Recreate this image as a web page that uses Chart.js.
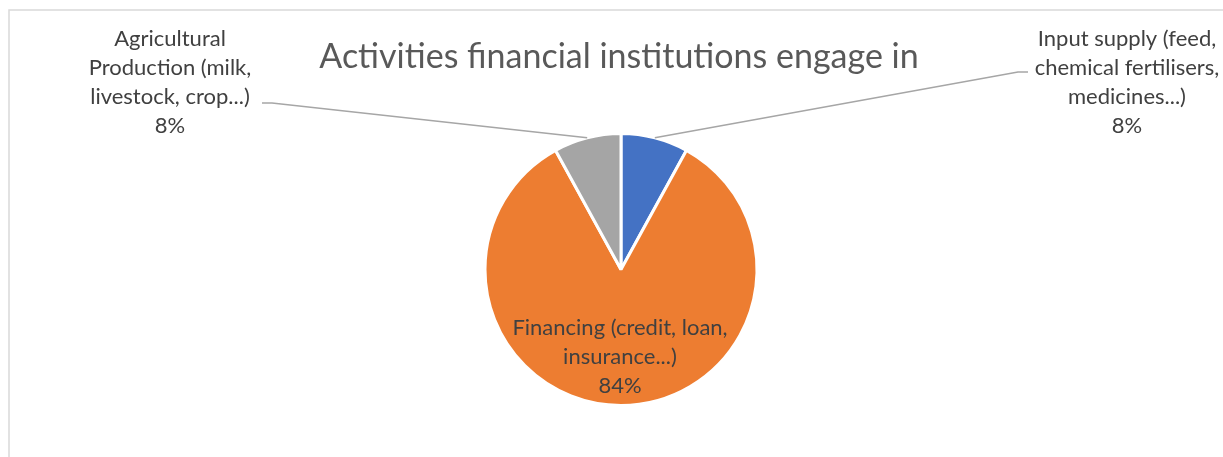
<!DOCTYPE html>
<html>
<head>
<meta charset="utf-8">
<script src="https://cdn.jsdelivr.net/npm/chart.js@4/dist/chart.umd.min.js"></script>
<style>
  html, body { margin: 0; padding: 0; background: #fff; }
  #wrap { width: 1223px; height: 457px; }
</style>
</head>
<body>
<div id="wrap"><canvas id="myPieChart" width="1223" height="457"></canvas></div>
<script>
// Data
const chartTitle = "Activities financial institutions engage in";
const categories = [
  ["Input supply (feed,", "chemical fertilisers,", "medicines...)"],
  ["Financing (credit, loan,", "insurance...)"],
  ["Agricultural", "Production (milk,", "livestock, crop...)"],
];
const shares = [8, 84, 8];
const sliceColors = ["#4472C4", "#ED7D31", "#A5A5A5"];

// where each label block sits (centre x, first line y) and where its leader starts
const labelSpots = [
  { x: 1127, y: 39, leader: [[1028, 72], [1018, 72]] },
  { x: 620, y: 328, inside: true },
  { x: 170, y: 39, leader: [[262, 103], [272, 103]] },
];

const labelFont = "22px Lato";
const lineGap = 29;

const pieLabels = {
  id: "pieLabels",
  beforeDraw(chart) {
    const ctx = chart.ctx;
    ctx.save();
    ctx.strokeStyle = "#D9D9D9";
    ctx.lineWidth = 1.5;
    ctx.strokeRect(9, 10, 1400, 600);
    ctx.restore();
  },
  afterDraw(chart) {
    const ctx = chart.ctx;
    const arcs = chart.getDatasetMeta(0).data;
    const total = shares.reduce((a, b) => a + b, 0);
    ctx.save();

    // title
    ctx.fillStyle = "#595959";
    ctx.font = "34px Lato";
    ctx.textAlign = "center";
    ctx.textBaseline = "middle";
    ctx.fillText(chartTitle, 619, 57);

    arcs.forEach((arc, i) => {
      const spot = labelSpots[i];
      const mid = (arc.startAngle + arc.endAngle) / 2;
      if (spot.leader) {
        const ex = arc.x + Math.cos(mid) * arc.outerRadius;
        const ey = arc.y + Math.sin(mid) * arc.outerRadius;
        ctx.strokeStyle = "#A6A6A6";
        ctx.lineWidth = 1.5;
        ctx.beginPath();
        ctx.moveTo(spot.leader[0][0], spot.leader[0][1]);
        ctx.lineTo(spot.leader[1][0], spot.leader[1][1]);
        ctx.lineTo(ex, ey);
        ctx.stroke();
      }
      const lines = categories[i].concat([Math.round(shares[i] / total * 100) + "%"]);
      ctx.fillStyle = "#404040";
      ctx.font = labelFont;
      lines.forEach((t, k) => ctx.fillText(t, spot.x, spot.y + k * lineGap));
    });
    ctx.restore();
  },
};

const ctxPie = document.getElementById("myPieChart");
const myPieChart = new Chart(ctxPie, {
  type: "pie",
  data: {
    labels: categories.map((c) => c.join(" ")),
    datasets: [
      {
        data: shares,
        backgroundColor: sliceColors,
        borderColor: "#FFFFFF",
        borderWidth: 3,
        hoverOffset: 0,
      },
    ],
  },
  options: {
    responsive: false,
    animation: false,
    layout: {
      padding: { top: 132, bottom: 50, left: 19, right: 0 },
    },
    plugins: {
      legend: { display: false },
      tooltip: { enabled: false },
      title: { display: false },
    },
  },
  plugins: [pieLabels],
});
</script>
</body>
</html>
